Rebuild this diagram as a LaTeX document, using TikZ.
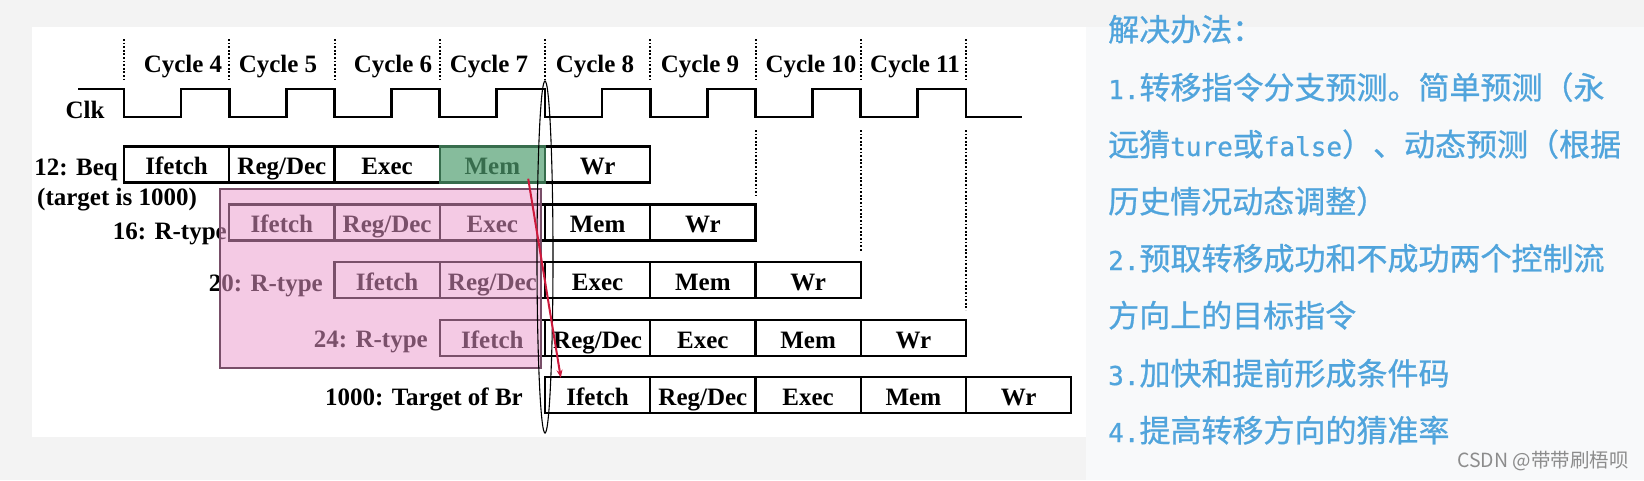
\documentclass[tikz,border=0pt]{standalone}
\usepackage{fontspec}
\setmainfont{Liberation Serif}
\newfontfamily\cjk[FakeBold=0.8]{Noto Sans CJK SC}
\newfontfamily\cjkplain{Noto Sans CJK SC}
\newfontfamily\latmono[FakeBold=0.8]{DejaVu Sans Mono}
\usepackage{tikz}
\usetikzlibrary{arrows.meta}
\definecolor{bggray}{RGB}{243,243,243}
\definecolor{notebg}{RGB}{248,249,250}
\definecolor{noteblue}{RGB}{80,164,220}
\definecolor{memgreen}{RGB}{81,159,113}
\definecolor{squashpink}{RGB}{235,154,204}
\definecolor{squashedge}{RGB}{120,78,104}
\definecolor{brred}{RGB}{205,25,60}
\definecolor{markgray}{RGB}{140,140,140}
\newcommand{\lat}[1]{{\latmono\fontsize{26}{26}\selectfont #1}}

\begin{document}
\begin{tikzpicture}[x=1pt, y=-1pt,
  stage/.style={draw, line width=2.4pt, minimum width=105.25pt, minimum height=36pt,
    inner sep=0pt, text height=21pt, text depth=1pt, font=\fontsize{25}{25}\selectfont\bfseries},
  lbl/.style={inner sep=0pt, font=\fontsize{25}{25}\selectfont\bfseries},
  note/.style={inner sep=0pt, anchor=base west, text=noteblue, font=\cjk\fontsize{31}{31}\selectfont},
  tick/.style={dash pattern=on 1.8pt off 1.8pt, line width=2pt}]
\useasboundingbox (0,0) rectangle (1644,480);
\fill[bggray] (0,0) rectangle (1644,480);
\fill[white] (32,27) rectangle (1086,437);
\fill[notebg] (1086,27) rectangle (1644,480);

\foreach \k in {0,...,8} \draw[tick] ({124+105.25*\k},39) -- ({124+105.25*\k},81);
\draw[tick] (755.5,130) -- (755.5,195);
\draw[tick] (860.75,130) -- (860.75,252);
\draw[tick] (966,130) -- (966,310);

\foreach \c/\x in {4/183,5/278,6/393,7/489,8/595,9/700,10/811,11/915}
  \node[lbl, anchor=base] (cyc\c) at (\x,72) {Cycle \c};

\node[lbl, anchor=base] (clk) at (85,118) {Clk};
\draw[line width=2.6pt] (78,89) -- (124,89)
  foreach \i in {1,...,8} { -- ++(0,28) -- ++(57,0) -- ++(0,-28) -- ++(48.25,0) }
  -- ++(0,28) -- ++(56,0);

\node[lbl, anchor=base east] (beq) at (118,175) {12: Beq};
\node[lbl, anchor=base west] (beqnote) at (37,205) {(target is 1000)};
\node[lbl, anchor=base east] (i16) at (227,239) {16: R-type};
\node[lbl, anchor=base east] (i20) at (323,291) {20: R-type};
\node[lbl, anchor=base east] (i24) at (428,347) {24: R-type};
\node[lbl, anchor=base east] (tgt) at (523,405) {1000: Target of Br};

\foreach \s [count=\k from 0] in {Ifetch,Reg/Dec,Exec,Mem,Wr}
  \node[stage] (beq-\k) at ({176.625+105.25*\k},164.5) {\s};
\foreach \s [count=\k from 0] in {Ifetch,Reg/Dec,Exec,Mem,Wr}
  \node[stage] (i16-\k) at ({281.875+105.25*\k},222.5) {\s};
\foreach \s [count=\k from 0] in {Ifetch,Reg/Dec,Exec,Mem,Wr}
  \node[stage] (i20-\k) at ({387.125+105.25*\k},280) {\s};
\foreach \s [count=\k from 0] in {Ifetch,Reg/Dec,Exec,Mem,Wr}
  \node[stage] (i24-\k) at ({492.375+105.25*\k},338) {\s};
\foreach \s [count=\k from 0] in {Ifetch,Reg/Dec,Exec,Mem,Wr}
  \node[stage] (tgt-\k) at ({597.625+105.25*\k},395) {\s};

\fill[memgreen, fill opacity=0.69] (beq-3.south west) rectangle (beq-3.north east);
\filldraw[fill=squashpink, fill opacity=0.52, draw=squashedge, line width=1.6pt] (220,189) rectangle (541,368);
\draw[line width=1.1pt] (545,257) ellipse [x radius=8, y radius=176];

\coordinate (brfrom) at ([shift={(-18,-5)}]beq-3.south east);
\coordinate (brto) at ([shift={(17,2)}]tgt-0.north west);
\draw[brred, line width=2pt, -{Stealth[length=8pt,width=6pt]}] (brfrom) -- (brto);

\node[note] (sol) at (1108,41) {解决办法：};
\node[note] (n1a) at (1108,99) {\lat{1.}转移指令分支预测。简单预测（永};
\node[note] (n1b) at (1108,156) {远猜\lat{ture}或\lat{false}）、动态预测（根据};
\node[note] (n1c) at (1108,213) {历史情况动态调整）};
\node[note] (n2a) at (1108,270) {\lat{2.}预取转移成功和不成功两个控制流};
\node[note] (n2b) at (1108,327) {方向上的目标指令};
\node[note] (n3) at (1108,385) {\lat{3.}加快和提前形成条件码};
\node[note] (n4) at (1108,442) {\lat{4.}提高转移方向的猜准率};
\node[inner sep=0pt, anchor=base west, text=markgray, font=\cjkplain\fontsize{19.5}{19.5}\selectfont] (mark) at (1457,467) {CSDN @带带刷梧呗};
\end{tikzpicture}
\end{document}
